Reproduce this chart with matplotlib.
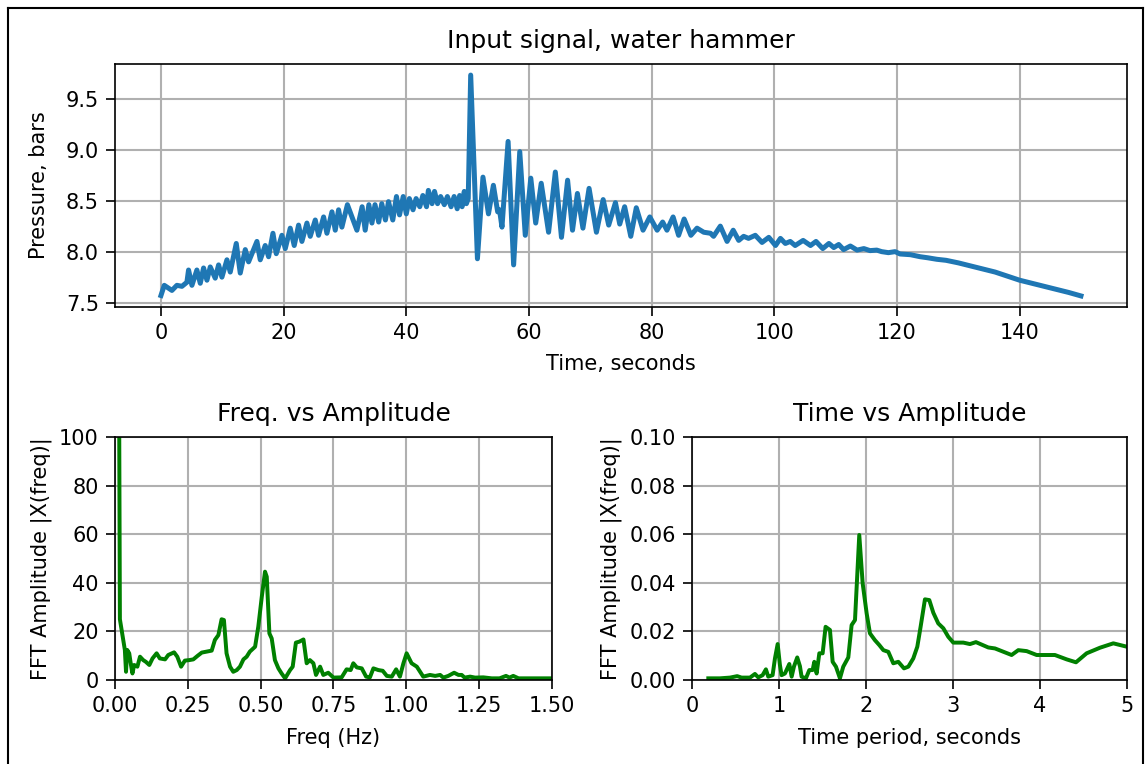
import matplotlib
matplotlib.use("Agg")
import matplotlib.pyplot as plt
from matplotlib.lines import Line2D

# input signal (peaks / troughs)
time_s = [
    0.0, 0.54, 1.79, 2.6, 3.42, 4.23, 4.5, 5.05, 5.86, 6.41,
    6.95, 7.5, 8.04, 8.85, 9.4, 9.94, 10.76, 11.3, 12.28, 12.93,
    13.75, 14.29, 15.65, 16.19, 17.0, 17.55, 18.26, 18.8, 19.72, 20.27,
    21.08, 21.73, 22.44, 22.98, 23.8, 24.34, 25.16, 25.7, 26.52, 27.06,
    27.88, 28.42, 28.96, 29.5, 30.4, 31.95, 32.8, 33.3, 33.9, 34.4,
    34.9, 35.5, 36.0, 36.6, 37.1, 37.8, 38.4, 38.9, 39.5, 40.0,
    40.5, 41.1, 41.6, 42.2, 42.7, 43.3, 43.6, 44.2, 44.6, 45.1,
    45.6, 46.2, 46.7, 47.3, 47.8, 48.3, 48.7, 49.1, 49.45, 49.8,
    50.1, 50.5, 51.6, 52.5, 53.4, 54.2, 54.9, 55.2, 55.6, 56.6,
    57.5, 58.5, 59.4, 60.3, 61.1, 62.0, 63.2, 64.3, 65.3, 66.3,
    67.1, 67.9, 68.8, 69.8, 71.0, 72.1, 73.0, 74.1, 74.8, 75.6,
    76.6, 77.5, 78.6, 79.7, 80.9, 81.8, 82.5, 83.5, 84.4, 85.3,
    86.4, 87.4, 88.5, 89.6, 90.1, 91.2, 92.3, 93.3, 94.2, 95.0,
    95.8, 96.9, 98.0, 99.1, 100.2, 101.0, 101.8, 102.6, 103.4, 104.7,
    105.9, 106.8, 107.9, 108.9, 109.7, 110.5, 111.3, 112.4, 113.5, 114.6,
    115.6, 116.7, 117.5, 118.6, 119.7, 120.5, 122.2, 123.8, 125.0, 126.5,
    128.0, 130.0, 132.0, 134.0, 136.0, 138.0, 140.0, 142.0, 144.0, 146.0,
    148.0, 150.0,
]
pressure_bar = [
    7.57, 7.67, 7.62, 7.67, 7.66, 7.70, 7.82, 7.67, 7.82, 7.69,
    7.84, 7.72, 7.85, 7.74, 7.87, 7.75, 7.92, 7.80, 8.08, 7.79,
    8.02, 7.90, 8.10, 7.92, 8.06, 7.95, 8.18, 7.98, 8.16, 8.03,
    8.23, 8.06, 8.26, 8.10, 8.28, 8.15, 8.31, 8.16, 8.34, 8.18,
    8.39, 8.21, 8.41, 8.24, 8.46, 8.21, 8.44, 8.21, 8.46, 8.28,
    8.46, 8.29, 8.47, 8.31, 8.49, 8.31, 8.54, 8.36, 8.54, 8.37,
    8.52, 8.41, 8.52, 8.44, 8.55, 8.44, 8.60, 8.47, 8.59, 8.47,
    8.54, 8.46, 8.54, 8.44, 8.54, 8.42, 8.55, 8.44, 8.59, 8.47,
    8.52, 9.73, 7.93, 8.73, 8.37, 8.65, 8.39, 8.41, 8.24, 9.08,
    7.87, 8.98, 8.16, 8.72, 8.28, 8.67, 8.19, 8.78, 8.14, 8.70,
    8.21, 8.57, 8.23, 8.62, 8.19, 8.51, 8.26, 8.48, 8.27, 8.44,
    8.15, 8.43, 8.21, 8.34, 8.21, 8.29, 8.21, 8.34, 8.16, 8.32,
    8.16, 8.23, 8.19, 8.18, 8.15, 8.25, 8.10, 8.21, 8.11, 8.15,
    8.13, 8.16, 8.09, 8.14, 8.06, 8.13, 8.08, 8.10, 8.06, 8.11,
    8.06, 8.10, 8.03, 8.08, 8.04, 8.07, 8.02, 8.055, 8.015, 8.03,
    8.01, 8.015, 8.0, 7.99, 8.0, 7.977, 7.97, 7.95, 7.94, 7.925,
    7.915, 7.89, 7.86, 7.83, 7.80, 7.76, 7.72, 7.69, 7.66, 7.63,
    7.60, 7.566,
]

# spectrum vs frequency
freq_hz = [
    0.0067, 0.0133, 0.017, 0.034, 0.038, 0.042, 0.049, 0.055, 0.06, 0.066,
    0.077, 0.086, 0.097, 0.106, 0.118, 0.129, 0.143, 0.154, 0.172, 0.183,
    0.203, 0.214, 0.227, 0.24, 0.255, 0.269, 0.283, 0.298, 0.315, 0.332,
    0.343, 0.355, 0.366, 0.374, 0.383, 0.395, 0.406, 0.418, 0.429, 0.441,
    0.452, 0.463, 0.481, 0.492, 0.504, 0.515, 0.521, 0.53, 0.538, 0.549,
    0.561, 0.572, 0.584, 0.601, 0.61, 0.621, 0.633, 0.647, 0.658, 0.669,
    0.681, 0.69, 0.704, 0.715, 0.732, 0.75, 0.778, 0.795, 0.809, 0.818,
    0.83, 0.847, 0.862, 0.875, 0.887, 0.904, 0.919, 0.933, 0.95, 0.965,
    0.978, 0.99, 1.001, 1.018, 1.036, 1.058, 1.081, 1.099, 1.116, 1.127,
    1.144, 1.164, 1.179, 1.19, 1.2, 1.219, 1.236, 1.264, 1.293, 1.32,
    1.342, 1.354, 1.367, 1.385, 1.436, 1.5,
]
freq_amp = [
    600, 150, 25, 12.4, 3.4, 12.4, 11, 6.2, 2.7, 6.2,
    5.5, 9.6, 8.2, 7.5, 6.2, 8.9, 11.0, 8.9, 8.5, 10.3,
    11.4, 9.6, 5.5, 8.0, 8.2, 8.5, 9.9, 11.3, 11.7, 12.1,
    16.5, 18.5, 25.0, 24.7, 11.0, 5.5, 3.4, 4.1, 5.5, 8.5,
    9.6, 11.7, 13.7, 22, 34.3, 44.6, 42.5, 19.2, 17.1, 8.2,
    4.8, 2.7, 0.7, 4.1, 5.5, 15.4, 15.8, 16.7, 6.9, 8.2,
    6.9, 2.1, 5.5, 2.1, 3.0, 1.0, 1.1, 4.4, 4.1, 6.9,
    5.2, 4.8, 1.4, 1.1, 4.8, 4.1, 3.8, 1.7, 1.4, 4.4,
    1.4, 6.9, 11.0, 6.9, 5.5, 1.4, 2.1, 1.7, 2.1, 1.0,
    1.7, 3.0, 2.1, 2.1, 1.0, 1.4, 1.0, 1.1, 0.7, 0.7,
    1.7, 1.0, 1.7, 0.7, 0.7, 0.7,
]

# spectrum vs time period
period_s = [
    0.188, 0.32, 0.437, 0.52, 0.57, 0.667, 0.724, 0.762, 0.812, 0.85,
    0.877, 0.927, 0.954, 0.985, 1.011, 1.03, 1.069, 1.119, 1.146, 1.172,
    1.21, 1.241, 1.26, 1.31, 1.349, 1.387, 1.406, 1.433, 1.464, 1.502,
    1.536, 1.586, 1.617, 1.655, 1.701, 1.739, 1.797, 1.835, 1.874, 1.923,
    1.962, 2.008, 2.046, 2.103, 2.153, 2.2, 2.257, 2.314, 2.372, 2.437,
    2.487, 2.544, 2.59, 2.628, 2.678, 2.728, 2.774, 2.831, 2.889, 2.946,
    3.004, 3.119, 3.195, 3.264, 3.406, 3.483, 3.674, 3.751, 3.847, 3.962,
    4.172, 4.307, 4.414, 4.536, 4.69, 4.843, 5.0, 5.1,
]
period_amp = [
    0.0007, 0.0007, 0.001, 0.0016, 0.001, 0.001, 0.0025, 0.0011, 0.002, 0.0044,
    0.0014, 0.002, 0.0089, 0.0148, 0.0062, 0.002, 0.0027, 0.0066, 0.0014, 0.0055,
    0.0093, 0.0057, 0.0014, 0.0007, 0.0041, 0.0041, 0.0075, 0.0027, 0.011, 0.011,
    0.0219, 0.0206, 0.0075, 0.0055, 0.0007, 0.0055, 0.0093, 0.0226, 0.0247, 0.0597,
    0.0398, 0.0274, 0.0192, 0.0164, 0.0144, 0.0123, 0.0116, 0.0069, 0.0075, 0.0048,
    0.0055, 0.0089, 0.0137, 0.0219, 0.0332, 0.0329, 0.0277, 0.0233, 0.0213, 0.0178,
    0.0154, 0.0154, 0.0148, 0.0156, 0.0134, 0.013, 0.0103, 0.0123, 0.0119, 0.0103,
    0.0103, 0.0085, 0.0073, 0.011, 0.0133, 0.0151, 0.0137, 0.0133,
]

plt.rcParams['xtick.major.size'] = 4.2
plt.rcParams['ytick.major.size'] = 4.2
plt.rcParams['grid.linewidth'] = 1.0
plt.rcParams['axes.titlepad'] = 7.5
plt.rcParams['axes.labelpad'] = 5.5

fig = plt.figure(figsize=(7.64, 764 / 150), dpi=150)

# signal
ax1 = fig.add_axes([0.1003, 0.5982, 0.8831, 0.318])
ax1.plot(time_s, pressure_bar, color='tab:blue', linewidth=2.4)
ax1.set_title('Input signal, water hammer')
ax1.set_xlabel('Time, seconds')
ax1.set_ylabel('Pressure, bars', labelpad=8)
ax1.grid(True)

# frequency domain
ax2 = fig.add_axes([0.1003, 0.1099, 0.3814, 0.3181])
ax2.plot(freq_hz, freq_amp, color='green', linewidth=1.9)
ax2.set_xlim(0, 1.5)
ax2.set_ylim(0, 100)
ax2.set_title('Freq. vs Amplitude')
ax2.set_xlabel('Freq (Hz)')
ax2.set_ylabel('FFT Amplitude |X(freq)|', labelpad=3.5)
ax2.grid(True)

# time period domain
ax3 = fig.add_axes([0.6038, 0.1099, 0.3796, 0.3181])
ax3.plot(period_s, period_amp, color='green', linewidth=1.9)
ax3.set_xlim(0, 5)
ax3.set_ylim(0, 0.1)
ax3.set_title('Time vs Amplitude')
ax3.set_xlabel('Time period, seconds')
ax3.set_ylabel('FFT Amplitude |X(freq)|', labelpad=3.5)
ax3.grid(True)

# screenshot frame
W, H = 1146, 764
fig.add_artist(Line2D([8 / W, 8 / W], [0, 1 - 8 / H], transform=fig.transFigure, color='black', lw=1))
fig.add_artist(Line2D([8 / W, 1143 / W], [1 - 8 / H, 1 - 8 / H], transform=fig.transFigure, color='black', lw=1))
fig.add_artist(Line2D([1143 / W, 1143 / W], [0, 1 - 8 / H], transform=fig.transFigure, color='black', lw=1))

fig.savefig('out.png', dpi=150)
